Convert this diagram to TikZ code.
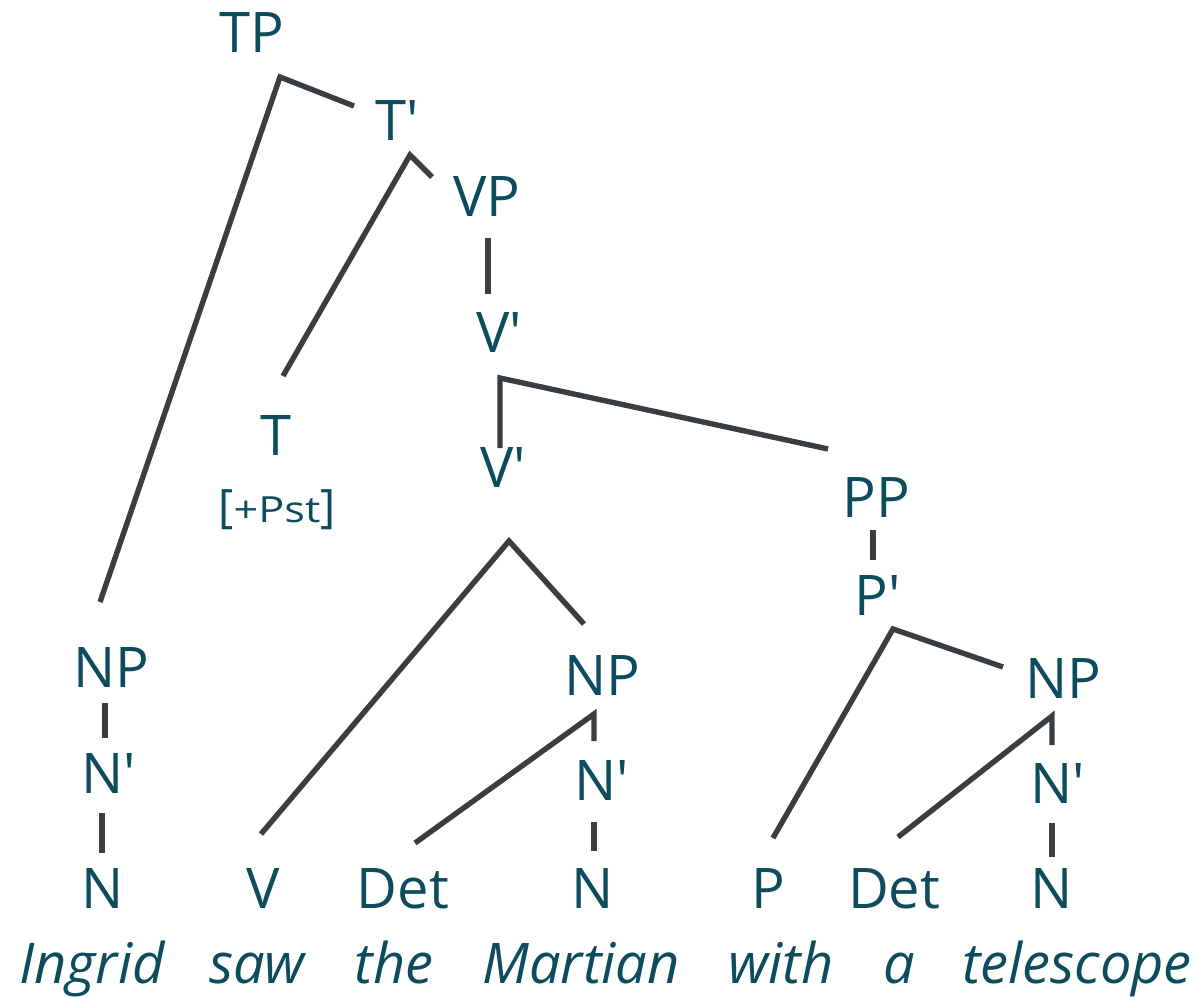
\documentclass[tikz,border=0pt]{standalone}
\usepackage{fontspec}
\setmainfont{Open Sans}
\definecolor{labelc}{RGB}{12,76,92}
\definecolor{edgec}{RGB}{58,62,66}
\newcommand{\pr}{\textquotesingle}
\tikzset{
  cat/.style={anchor=base, inner sep=0pt, text=labelc, font=\fontsize{28}{34}\selectfont},
  word/.style={anchor=base, inner sep=0pt, text=labelc, font=\fontsize{28}{34}\selectfont\itshape},
  feat/.style={anchor=base, inner sep=0pt, text=labelc},
  branch/.style={draw=edgec, line width=2.7pt, line cap=butt, line join=miter}
}
\begin{document}
\begin{tikzpicture}[x=0.5pt, y=-0.5pt]
\useasboundingbox (0,0) rectangle (1199,997);

% category labels
\node[cat] (tp)   at (252,52)  {TP};
\node[cat] (tbar) at (397,140) {T\pr};
\node[cat] (vp)   at (487,216) {VP};
\node[cat] (vbarA) at (499,352) {V\pr};
\node[cat] (t)    at (276,455) {T};
\node[feat] (pst) at (277,522) {{\fontsize{23}{26}\selectfont[}\scalebox{1.2}[1]{\fontsize{18}{22}\selectfont +Pst}{\fontsize{23}{26}\selectfont]}};
\node[cat] (vbarB) at (503,487) {V\pr};
\node[cat] (pp)   at (876,517) {PP};
\node[cat] (pbar) at (878,615) {P\pr};
\node[cat] (npA)  at (111,687) {NP};
\node[cat] (nbarA) at (109,793) {N\pr};
\node[cat] (nA)   at (103,908) {N};
\node[cat] (v)    at (263,908) {V};
\node[cat] (detA) at (403,908) {Det};
\node[cat] (npB)  at (602,695) {NP};
\node[cat] (nbarB) at (602,800) {N\pr};
\node[cat] (nB)   at (593,908) {N};
\node[cat] (p)    at (768,908) {P};
\node[cat] (detB) at (894,908) {Det};
\node[cat] (npC)  at (1063,698) {NP};
\node[cat] (nbarC) at (1058,803) {N\pr};
\node[cat] (nC)   at (1052,908) {N};

% words
\node[word] (w1) at (92,983)   {Ingrid};
\node[word] (w2) at (257,983)  {saw};
\node[word] (w3) at (394,983)  {the};
\node[word] (w4) at (581,983)  {Martian};
\node[word] (w5) at (781,983)  {with};
\node[word] (w6) at (899,983)  {a};
\node[word] (w7) at (1077,983) {telescope};

% branching points and branch ends
\coordinate (tpJ)   at (280,77);
\coordinate (tpR)   at (354,106);
\coordinate (tpL)   at (100,602);
\coordinate (tbJ)   at (410,155);
\coordinate (tbR)   at (432,177);
\coordinate (tbL)   at (283,376);
\coordinate (vpT)   at (488,238);
\coordinate (vpB)   at (488,294);
\coordinate (vaJ)   at (500,378);
\coordinate (vaL)   at (500,448);
\coordinate (vaR)   at (828,449);
\coordinate (vbJ)   at (509,541);
\coordinate (vbR)   at (584,624);
\coordinate (vbL)   at (261,834);
\coordinate (ppT)   at (873,530);
\coordinate (ppB)   at (873,560);
\coordinate (pbJ)   at (893,629);
\coordinate (pbR)   at (1003,667);
\coordinate (pbL)   at (773,838);
\coordinate (naT)   at (105,703);
\coordinate (naB)   at (105,738);
\coordinate (nbT)   at (102,813);
\coordinate (nbB)   at (102,853);
\coordinate (mbJ)   at (594,714);
\coordinate (mbB)   at (594,741);
\coordinate (mbL)   at (415,843);
\coordinate (mnT)   at (594,822);
\coordinate (mnB)   at (594,851);
\coordinate (rbJ)   at (1052,716);
\coordinate (rbB)   at (1052,745);
\coordinate (rbL)   at (898,837);
\coordinate (rnT)   at (1052,823);
\coordinate (rnB)   at (1052,857);

% branches
\draw[branch] (tpL) -- (tpJ) -- (tpR);
\draw[branch] (tbL) -- (tbJ) -- (tbR);
\draw[branch] (vpT) -- (vpB);
\draw[branch] (vaL) -- (vaJ) -- (vaR);
\draw[branch] (vbL) -- (vbJ) -- (vbR);
\draw[branch] (ppT) -- (ppB);
\draw[branch] (pbL) -- (pbJ) -- (pbR);
\draw[branch] (naT) -- (naB);
\draw[branch] (nbT) -- (nbB);
\draw[branch] (mbL) -- (mbJ) -- (mbB);
\draw[branch] (mnT) -- (mnB);
\draw[branch] (rbL) -- (rbJ) -- (rbB);
\draw[branch] (rnT) -- (rnB);
\end{tikzpicture}
\end{document}
